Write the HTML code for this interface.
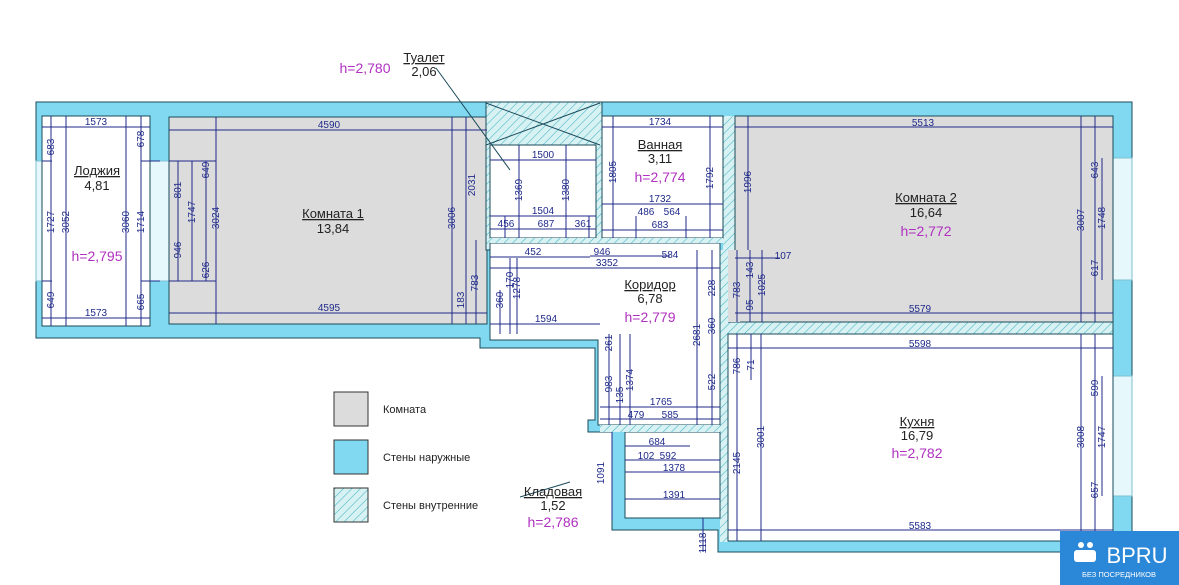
<!DOCTYPE html>
<html><head><meta charset="utf-8"><style>
html,body{margin:0;padding:0;background:#fff;width:1179px;height:585px;overflow:hidden}
svg{display:block}
.d{font-family:"Liberation Sans",sans-serif;font-size:10px;fill:#1f2a8a;text-anchor:middle}
.l{font-family:"Liberation Sans","DejaVu Sans",sans-serif;font-size:13px;fill:#222;text-anchor:middle}
.h{font-family:"Liberation Sans",sans-serif;font-size:14px;fill:#b030c0;text-anchor:middle}
.k{stroke:#1f2a8a;stroke-width:1;fill:none}
</style></head><body>
<svg width="1179" height="585" viewBox="0 0 1179 585" xmlns="http://www.w3.org/2000/svg">
<defs>
<pattern id="ht" width="6" height="6" patternUnits="userSpaceOnUse" patternTransform="rotate(45)">
<rect width="6" height="6" fill="#d8f2f4"/><line x1="0" y1="0" x2="0" y2="6" stroke="#4bb8c4" stroke-width="1.2"/></pattern>
</defs>
<!-- outer walls -->
<g fill="#80d9f0" stroke="#1a4a5a" stroke-width="1">
<path d="M36 102 H1132 V552 H718 V530 H612 V432 H588 V420 H595 V348 H480 V338 H36 Z"/>
</g>
<!-- windows -->
<g fill="#e6f8fc" stroke="#7fbfd0">
<rect x="36" y="161" width="6" height="120"/>
<rect x="150" y="161" width="19" height="120"/>
<rect x="1113" y="158" width="19" height="122"/>
<rect x="1113" y="376" width="19" height="120"/>
</g>
<!-- rooms -->
<rect x="42" y="116" width="108" height="210" fill="#fff" stroke="#1a4a5a"/>
<rect x="169" y="117" width="318" height="207" fill="#dcdcdc" stroke="#1a4a5a"/>
<rect x="486" y="102" width="116" height="148" fill="url(#ht)" stroke="#1a4a5a"/>
<line x1="486" y1="103" x2="600" y2="145" stroke="#1a4a5a"/><line x1="600" y1="103" x2="486" y2="145" stroke="#1a4a5a"/>
<rect x="723" y="116" width="12" height="134" fill="url(#ht)"/>
<rect x="727" y="322" width="386" height="12" fill="url(#ht)" stroke="#1a4a5a"/>
<rect x="720" y="250" width="8" height="292" fill="url(#ht)"/>
<rect x="490" y="145" width="106" height="93" fill="#fff" stroke="#1a4a5a"/>
<rect x="602" y="116" width="121" height="122" fill="#fff" stroke="#1a4a5a"/>
<rect x="735" y="116" width="378" height="206" fill="#dcdcdc" stroke="#1a4a5a"/>
<rect x="728" y="334" width="385" height="207" fill="#fff" stroke="#1a4a5a"/>
<path d="M490 243 H720 V425 H598 V340 H490 Z" fill="#fff" stroke="#1a4a5a"/>
<rect x="490" y="238" width="233" height="5" fill="url(#ht)"/>
<rect x="625" y="432" width="95" height="86" fill="#fff" stroke="#1a4a5a"/>
<rect x="600" y="425" width="120" height="7" fill="url(#ht)"/>
<rect x="728" y="250" width="12" height="72" fill="#dcdcdc"/>
<!-- dimension lines -->
<g class="k">
<path d="M42 127H150M42 318H150M51 116V326M66 116V326M126 116V326M141 116V326M42 161H52M42 281H52M141 161H160M141 281H160"/>
<path d="M169 130H487M169 313H487M178 161V281M192 161V281M206 161V281M216 117V324M452 117V324M466 117V324M476 240V324M169 161H216M169 281H216"/>
<path d="M490 160H596M490 216H596M490 229H596M519 145V238M566 145V238M505 216V238M589 216V238"/>
<path d="M602 127H723M602 204H723M602 230H723M613 116V238M710 116V238M636 216V238M686 216V238"/>
<path d="M490 257H590M590 256H670M490 268H720M500 290V334M510 258V334M517 258V334M490 324H600M609 334V425M620 334V425M630 334V425M600 407H720M600 419H720M712 250V334M697 250V425M712 334V425"/>
<path d="M735 127H1113M735 313H1113M748 116V250M737 250V322M750 250V322M762 250V322M735 258H780"/>
<path d="M728 348H1113M728 530H1113M737 334V541M751 334V380M761 334V541M1081 116V322M1095 116V322M1081 334V541M1095 334V541M1102 158V280M1102 376V496"/>
<path d="M625 446H690M625 460H720M625 472H720M625 499H720M612 432V520M703 518V552"/>
</g>
<g stroke="#1a4a5a" fill="none"><line x1="436" y1="68" x2="510" y2="170"/><line x1="570" y1="482" x2="520" y2="497"/></g>
<!-- dimension text -->
<g class="d">
<text x="96" y="125">1573</text><text x="96" y="316">1573</text>
<text x="329" y="128">4590</text><text x="329" y="311">4595</text>
<text x="543" y="158">1500</text><text x="543" y="214">1504</text>
<text x="506" y="227">456</text><text x="546" y="227">687</text><text x="583" y="227">361</text>
<text x="660" y="125">1734</text><text x="660" y="202">1732</text>
<text x="646" y="215">486</text><text x="672" y="215">564</text><text x="660" y="228">683</text>
<text x="533" y="255">452</text><text x="602" y="255">946</text><text x="607" y="266">3352</text><text x="670" y="258">584</text>
<text x="546" y="322">1594</text><text x="661" y="405">1765</text><text x="636" y="418">479</text><text x="670" y="418">585</text>
<text x="783" y="259">107</text>
<text x="657" y="445">684</text><text x="646" y="459">102</text><text x="668" y="459">592</text>
<text x="674" y="471">1378</text><text x="674" y="498">1391</text>
<text x="923" y="126">5513</text><text x="920" y="312">5579</text><text x="920" y="347">5598</text><text x="920" y="529">5583</text>
</g>
<g class="d">
<text transform="translate(54,147) rotate(-90)">683</text>
<text transform="translate(54,222) rotate(-90)">1727</text>
<text transform="translate(54,300) rotate(-90)">649</text>
<text transform="translate(69,222) rotate(-90)">3052</text>
<text transform="translate(129,222) rotate(-90)">3060</text>
<text transform="translate(144,222) rotate(-90)">1714</text>
<text transform="translate(144,139) rotate(-90)">678</text>
<text transform="translate(144,302) rotate(-90)">665</text>
<text transform="translate(181,190) rotate(-90)">801</text>
<text transform="translate(181,250) rotate(-90)">946</text>
<text transform="translate(195,212) rotate(-90)">1747</text>
<text transform="translate(209,170) rotate(-90)">649</text>
<text transform="translate(209,270) rotate(-90)">626</text>
<text transform="translate(219,218) rotate(-90)">3024</text>
<text transform="translate(455,218) rotate(-90)">3006</text>
<text transform="translate(475,185) rotate(-90)">2031</text>
<text transform="translate(464,300) rotate(-90)">183</text>
<text transform="translate(478,283) rotate(-90)">783</text>
<text transform="translate(522,190) rotate(-90)">1369</text>
<text transform="translate(569,190) rotate(-90)">1380</text>
<text transform="translate(616,172) rotate(-90)">1805</text>
<text transform="translate(713,178) rotate(-90)">1792</text>
<text transform="translate(513,280) rotate(-90)">170</text>
<text transform="translate(520,288) rotate(-90)">1278</text>
<text transform="translate(503,300) rotate(-90)">360</text>
<text transform="translate(715,288) rotate(-90)">228</text>
<text transform="translate(700,335) rotate(-90)">2681</text>
<text transform="translate(715,326) rotate(-90)">360</text>
<text transform="translate(612,343) rotate(-90)">261</text>
<text transform="translate(612,384) rotate(-90)">983</text>
<text transform="translate(623,395) rotate(-90)">135</text>
<text transform="translate(633,380) rotate(-90)">1374</text>
<text transform="translate(715,382) rotate(-90)">522</text>
<text transform="translate(740,290) rotate(-90)">783</text>
<text transform="translate(753,270) rotate(-90)">143</text>
<text transform="translate(765,285) rotate(-90)">1025</text>
<text transform="translate(753,305) rotate(-90)">95</text>
<text transform="translate(740,366) rotate(-90)">786</text>
<text transform="translate(754,365) rotate(-90)">71</text>
<text transform="translate(740,463) rotate(-90)">2145</text>
<text transform="translate(764,437) rotate(-90)">3001</text>
<text transform="translate(604,473) rotate(-90)">1091</text>
<text transform="translate(706,543) rotate(-90)">1118</text>
<text transform="translate(751,182) rotate(-90)">1996</text>
<text transform="translate(1084,220) rotate(-90)">3007</text>
<text transform="translate(1098,170) rotate(-90)">643</text>
<text transform="translate(1105,218) rotate(-90)">1748</text>
<text transform="translate(1098,268) rotate(-90)">617</text>
<text transform="translate(1084,437) rotate(-90)">3008</text>
<text transform="translate(1098,388) rotate(-90)">599</text>
<text transform="translate(1105,437) rotate(-90)">1747</text>
<text transform="translate(1098,490) rotate(-90)">657</text>
</g>
<!-- room labels -->
<g class="l">
<text x="97" y="175" text-decoration="underline">Лоджия</text><text x="97" y="190">4,81</text>
<text x="333" y="218" text-decoration="underline">Комната 1</text><text x="333" y="233">13,84</text>
<text x="424" y="62" text-decoration="underline">Туалет</text><text x="424" y="76">2,06</text>
<text x="660" y="149" text-decoration="underline">Ванная</text><text x="660" y="163">3,11</text>
<text x="650" y="289" text-decoration="underline">Коридор</text><text x="650" y="303">6,78</text>
<text x="926" y="202" text-decoration="underline">Комната 2</text><text x="926" y="217">16,64</text>
<text x="917" y="426" text-decoration="underline">Кухня</text><text x="917" y="440">16,79</text>
<text x="553" y="496" text-decoration="underline">Кладовая</text><text x="553" y="510">1,52</text>
</g>
<g class="h">
<text x="97" y="261">h=2,795</text><text x="365" y="73">h=2,780</text>
<text x="660" y="182">h=2,774</text><text x="650" y="322">h=2,779</text>
<text x="926" y="236">h=2,772</text><text x="917" y="458">h=2,782</text><text x="553" y="527">h=2,786</text>
</g>
<!-- legend -->
<rect x="334" y="392" width="34" height="34" fill="#dcdcdc" stroke="#333"/>
<rect x="334" y="440" width="34" height="34" fill="#80d9f0" stroke="#333"/>
<rect x="334" y="488" width="34" height="34" fill="url(#ht)" stroke="#333"/>
<g font-family="Liberation Sans,sans-serif" font-size="11" fill="#222">
<text x="383" y="413">Комната</text><text x="383" y="461">Стены наружные</text><text x="383" y="509">Стены внутренние</text>
</g>
<!-- logo -->
<rect x="1060" y="531" width="119" height="54" fill="#2b87d8"/>
<g fill="#fff"><circle cx="1081" cy="545" r="3"/><circle cx="1090" cy="545" r="3"/><rect x="1074" y="550" width="22" height="12" rx="3"/></g>
<text x="1137" y="563" font-family="Liberation Sans,sans-serif" font-size="22" fill="#fff" text-anchor="middle">BPRU</text>
<text x="1119" y="577" font-family="Liberation Sans,sans-serif" font-size="7.5" fill="#fff" text-anchor="middle">БЕЗ ПОСРЕДНИКОВ</text>
</svg>
</body></html>
